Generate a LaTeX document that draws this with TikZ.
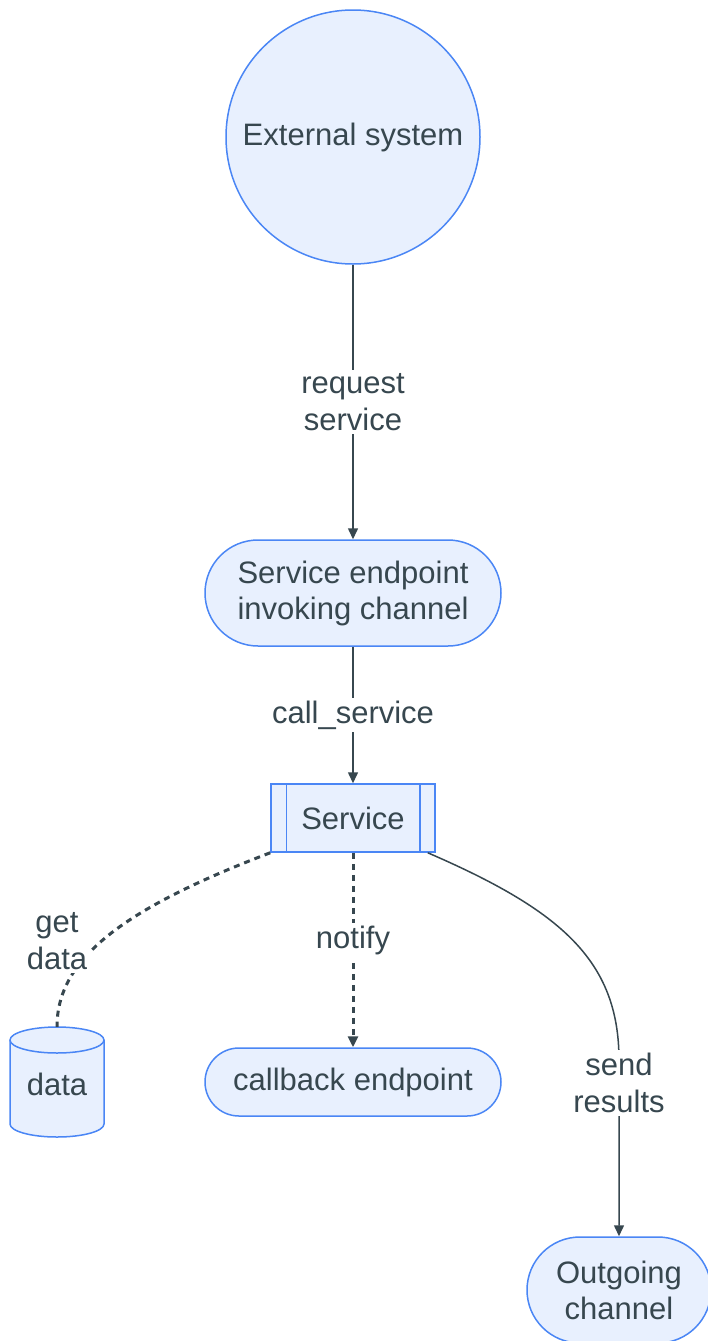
\documentclass[tikz,border=0pt]{standalone}
\usepackage{fontspec}
\setmainfont{Liberation Sans}
\usetikzlibrary{arrows.meta}
\definecolor{nfill}{HTML}{E8F0FE}
\definecolor{nline}{HTML}{4A86F5}
\definecolor{ink}{HTML}{37474F}
\tikzset{
  base/.style={draw=nline, fill=nfill, line width=1.5pt, text=ink, align=center, font=\fontsize{31}{36}\selectfont, inner sep=0pt},
  stadium/.style={base, rounded corners=53pt},
  lbl/.style={fill=white, text=ink, align=center, font=\fontsize{31}{37}\selectfont, inner sep=3pt},
  edge/.style={draw=ink, line width=1.5pt},
  arr/.style={-{Triangle[length=11pt,width=10pt]}},
  dots/.style={line width=3pt, dash pattern=on 6pt off 5pt},
}
\begin{document}
\begin{tikzpicture}[x=1pt,y=1pt]
\useasboundingbox (0,0) rectangle (708,-1341);
\node[base, circle, minimum size=254pt] (ext) at (353,-137) {External system};
\node[stadium, minimum width=296pt, minimum height=106pt] (sep) at (353,-593) {Service endpoint\\invoking channel};
\node[base, rectangle, minimum width=164pt, minimum height=68pt] (svc) at (353,-818) {Service};
\draw[nline, line width=1.5pt] ([xshift=16pt]svc.north west) -- ([xshift=16pt]svc.south west);
\draw[nline, line width=1.5pt] ([xshift=-16pt]svc.north east) -- ([xshift=-16pt]svc.south east);
\node[stadium, minimum width=296pt, minimum height=68pt, rounded corners=34pt] (cb) at (353,-1082) {callback endpoint};
\node[stadium, minimum width=184pt, minimum height=106pt] (out) at (619,-1290) {Outgoing\\channel};
% cylinder
\node[minimum width=94pt, minimum height=110pt, inner sep=0pt] (data) at (57,-1082) {};
\filldraw[draw=nline, fill=nfill, line width=1.5pt] (10,-1040) -- (10,-1124) arc[start angle=180, end angle=360, x radius=47pt, y radius=13pt] -- (104,-1040) arc[start angle=0, end angle=180, x radius=47pt, y radius=13pt] -- cycle;
\draw[nline, line width=1.5pt] (10,-1040) arc[start angle=180, end angle=360, x radius=47pt, y radius=13pt];
\node[text=ink, font=\fontsize{31}{36}\selectfont] at (57,-1084) {data};
% edges
\draw[edge, arr] (ext.south) -- node[lbl] {request\\service} (sep.north);
\draw[edge, arr] (sep.south) -- node[lbl] {call\_service} (svc.north);
\draw[edge, arr, dots] (svc.south) -- node[lbl, pos=0.45] {notify} (cb.north);
\draw[edge, dots] (svc.south west) .. controls (120,-910) and (57,-960) .. (data.north);
\node[lbl] (gd) at (57,-941) {get\\data};
\draw[edge, arr] ([xshift=-8pt]svc.south east) .. controls (560,-910) and (619,-960) .. (619,-1060) -- (out.north);
\node[lbl] (sr) at (619,-1083) {send\\results};
\end{tikzpicture}
\end{document}
